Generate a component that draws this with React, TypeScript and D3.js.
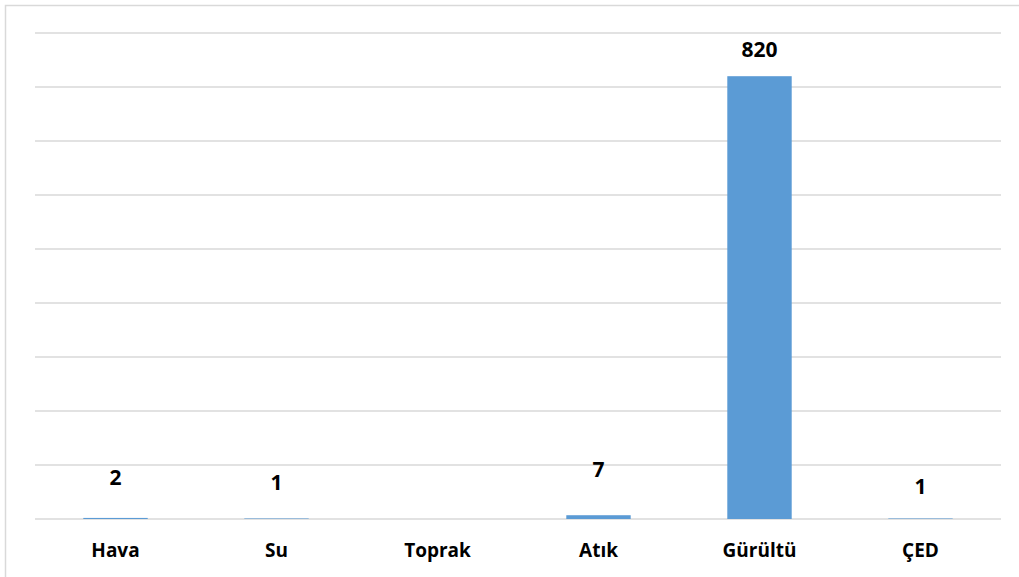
import React from "react";
import * as d3 from "d3";

// Complaint counts by environmental topic
const categories: string[] = ["Hava", "Su", "Toprak", "Atık", "Gürültü", "ÇED"];
const counts: (number | null)[] = [2, 1, null, 7, 820, 1];
const yTicks: number[] = [0, 100, 200, 300, 400, 500, 600, 700, 800, 900];

// Vertical distance (px) between each bar top and its value label baseline
const labelGap: number[] = [33, 28, 0, 38, 19, 24];

const WIDTH = 1019;
const HEIGHT = 577;
const PLOT = { left: 35, right: 1001, top: 33, bottom: 519 };
const BAR_COLOR = "#5B9BD5";
const GRID_COLOR = "#d9d9d9";
const FONT = "'Open Sans', 'Noto Sans', sans-serif";

export default function App() {
  const band = d3.scaleBand<string>().domain(categories).range([PLOT.left, PLOT.right]);
  const y = d3.scaleLinear().domain([0, 900]).range([PLOT.bottom, PLOT.top]);
  const barWidth = band.bandwidth() * 0.4;

  return (
    <div style={{ position: "absolute", left: 0, top: 0 }}>
      <svg width={WIDTH} height={HEIGHT} style={{ display: "block", background: "#fff" }}>
        <rect x={5.5} y={5.5} width={WIDTH + 20} height={HEIGHT + 20} fill="#fff" stroke={GRID_COLOR} strokeWidth={1.5} />
        <g>
          {yTicks.map((t) => (
            <line
              key={t}
              x1={PLOT.left}
              x2={PLOT.right}
              y1={y(t)}
              y2={y(t)}
              stroke={GRID_COLOR}
              strokeWidth={1.5}
            />
          ))}
        </g>
        <g>
          {categories.map((c, i) => {
            const v = counts[i];
            if (v == null) return null;
            const bx = (band(c) ?? 0) + band.bandwidth() / 2 - barWidth / 2;
            return (
              <rect key={c} x={bx} y={y(v)} width={barWidth} height={y(0) - y(v)} fill={BAR_COLOR} />
            );
          })}
        </g>
        <g fontFamily={FONT} fontWeight={700} fontSize={21} fill="#000" textAnchor="middle">
          {categories.map((c, i) => {
            const v = counts[i];
            if (v == null) return null;
            const cx = (band(c) ?? 0) + band.bandwidth() / 2;
            return (
              <text key={c} x={cx} y={y(v) - labelGap[i]}>
                {v}
              </text>
            );
          })}
        </g>
        <g fontFamily={FONT} fontWeight={700} fontSize={19} fill="#000" textAnchor="middle">
          {categories.map((c) => (
            <text key={c} x={(band(c) ?? 0) + band.bandwidth() / 2} y={557}>
              {c}
            </text>
          ))}
        </g>
      </svg>
    </div>
  );
}
